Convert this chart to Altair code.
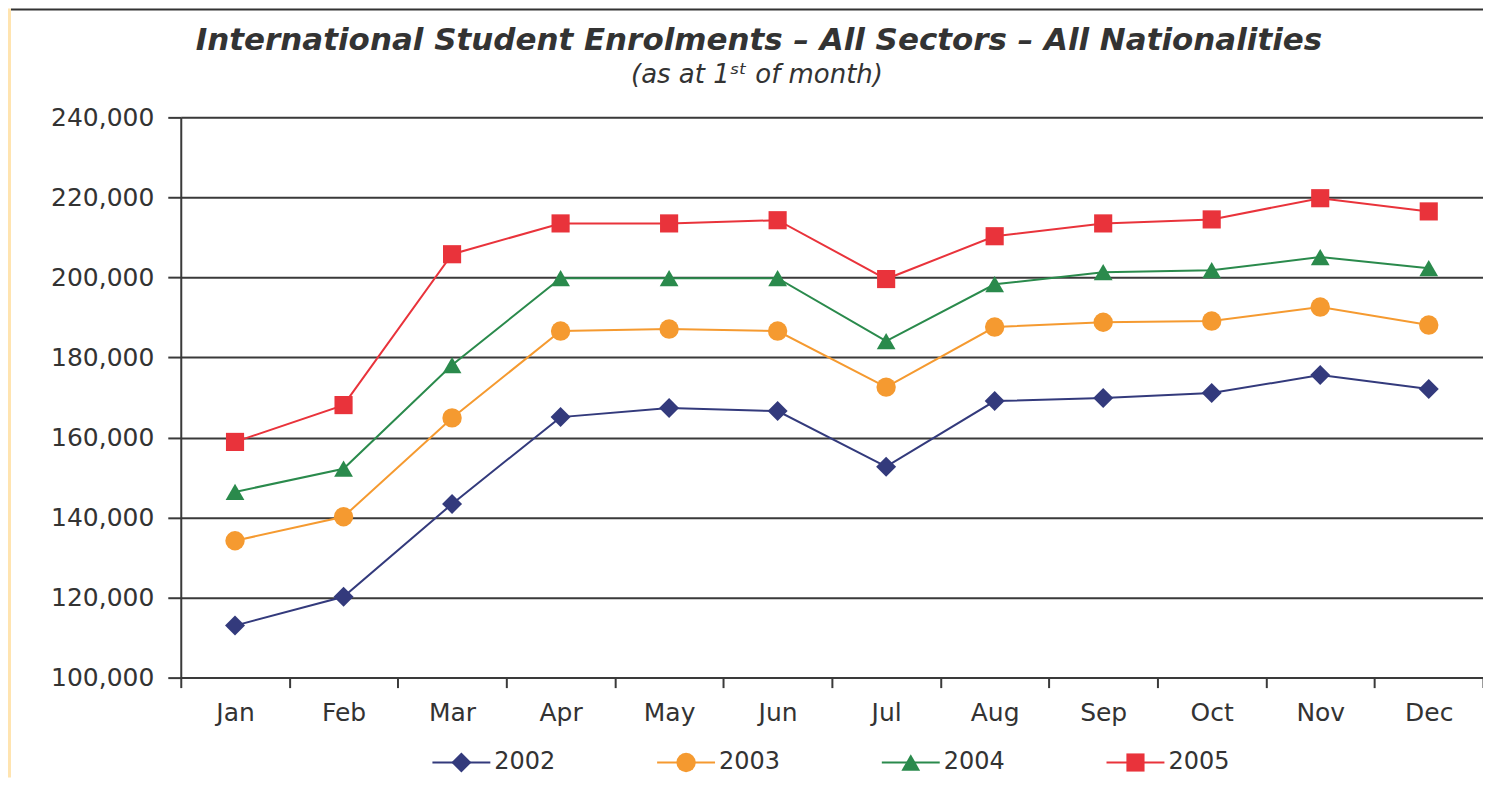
import altair as alt
import pandas as pd

months = ["Jan", "Feb", "Mar", "Apr", "May", "Jun", "Jul", "Aug", "Sep", "Oct", "Nov", "Dec"]
years = ["2002", "2003", "2004", "2005"]
v2002 = [113000, 120200, 143400, 165100, 167400, 166600, 152700, 169100, 169900, 171100, 175600, 172100]
v2003 = [134200, 140200, 164900, 186600, 187100, 186600, 172600, 187600, 188800, 189100, 192600, 188100]
v2004 = [146400, 152200, 178100, 199800, 199800, 199800, 184100, 198300, 201300, 201800, 205100, 202300]
v2005 = [158900, 168100, 205800, 213500, 213500, 214300, 199600, 210300, 213500, 214500, 219800, 216500]
y_ticks = [100000, 120000, 140000, 160000, 180000, 200000, 220000, 240000]

title_text = "International Student Enrolments – All Sectors – All Nationalities"
subtitle_text = "(as at 1ˢᵗ of month)"

colors = ["#333a7c", "#f59a30", "#2a8a4c", "#e9333b"]
shapes = ["diamond", "circle", "triangle-up", "square"]
marker_sizes = [400, 330, 400, 340]

series = {"2002": v2002, "2003": v2003, "2004": v2004, "2005": v2005}
rows = []
for yr in years:
    for m, v in zip(months, series[yr]):
        rows.append({"month": m, "year": yr, "value": v})
df = pd.DataFrame(rows)
leg_df = pd.DataFrame({"year": years})

W, H = 1304, 561
FONT = "DejaVu Sans"
TXT = "#333333"
GRID = "#3a3a3a"

color_scale = alt.Scale(domain=years, range=colors)
shape_scale = alt.Scale(domain=years, range=shapes)
size_scale = alt.Scale(domain=years, range=marker_sizes)

x_enc = alt.X(
    "month:N",
    sort=months,
    bandPosition=0.5,
    scale=alt.Scale(type="band", domain=months, paddingInner=0, paddingOuter=0),
    axis=alt.Axis(
        title=None, labelAngle=0, tickBand="extent", tickSize=10, tickWidth=2,
        tickColor=GRID, domainColor=GRID, domainWidth=2, grid=False,
        labelFont=FONT, labelFontSize=25, labelColor=TXT, labelPadding=13,
    ),
)
y_enc = alt.Y(
    "value:Q",
    scale=alt.Scale(domain=[100000, 240000], nice=False, zero=False),
    axis=alt.Axis(
        title=None, values=y_ticks, format=",d", tickSize=13, tickWidth=2,
        tickColor=GRID, domainColor=GRID, domainWidth=2, gridColor=GRID,
        gridWidth=2, gridOpacity=1, labelFont=FONT, labelFontSize=25,
        labelColor=TXT, labelPadding=14,
    ),
)

color_enc = alt.Color("year:N", scale=color_scale, legend=None)
shape_enc = alt.Shape("year:N", scale=shape_scale, legend=None)
size_enc = alt.Size("year:N", scale=size_scale, legend=None)

deco = pd.DataFrame({"title": [title_text], "subtitle": [subtitle_text]})
strip = alt.Chart(deco).mark_rect(color="#ffe4b0").encode(
    x=alt.value(-173), x2=alt.value(-170), y=alt.value(-109), y2=alt.value(661)
)
topline = alt.Chart(deco).mark_rect(color="#333333").encode(
    x=alt.value(-170), x2=alt.value(W + 4), y=alt.value(-109), y2=alt.value(-107)
)
title_mark = alt.Chart(deco).mark_text(
    align="center", baseline="alphabetic", font=FONT, fontSize=31,
    fontStyle="italic", fontWeight="bold", color=TXT,
).encode(x=alt.value(579), y=alt.value(-67), text="title:N")
subtitle_mark = alt.Chart(deco).mark_text(
    align="center", baseline="alphabetic", font=FONT, fontSize=26,
    fontStyle="italic", color=TXT,
).encode(x=alt.value(577), y=alt.value(-34), text="subtitle:N")

base = alt.Chart(df)
lines = base.mark_line(strokeWidth=2).encode(
    x=x_enc, y=y_enc, color=color_enc, detail="year:N",
)
points = base.mark_point(filled=True, opacity=1).encode(
    x=x_enc, y=y_enc, color=color_enc, shape=shape_enc, size=size_enc,
)
main = alt.layer(strip, topline, title_mark, subtitle_mark, lines, points)

leg_x = alt.X("year:N", sort=years,
              scale=alt.Scale(type="point", domain=years, range=[281, 956], padding=0),
              axis=None)
LEG_Y = 646
leg_base = alt.Chart(leg_df)
leg_line = leg_base.mark_tick(orient="horizontal", size=58, thickness=2, opacity=1).encode(
    x=leg_x, y=alt.value(LEG_Y), color=color_enc,
)
leg_pt = leg_base.mark_point(filled=True, opacity=1).encode(
    x=leg_x, y=alt.value(LEG_Y), color=color_enc, shape=shape_enc, size=size_enc,
)
leg_txt = leg_base.mark_text(align="left", baseline="middle", dx=33,
                             font=FONT, fontSize=24, color=TXT).encode(
    x=leg_x, y=alt.value(LEG_Y), text="year:N",
)
legend = alt.layer(leg_line, leg_pt, leg_txt)

chart = alt.layer(main, legend).resolve_scale(
    x="independent"
).properties(
    width=W, height=H,
    autosize=alt.AutoSizeParams(type="none"),
    padding={"left": 173, "top": 109, "right": 0, "bottom": 100},
).configure_view(stroke=None).configure(background="white")

chart.save("out.html", embed_options={"renderer": "svg", "actions": False})
